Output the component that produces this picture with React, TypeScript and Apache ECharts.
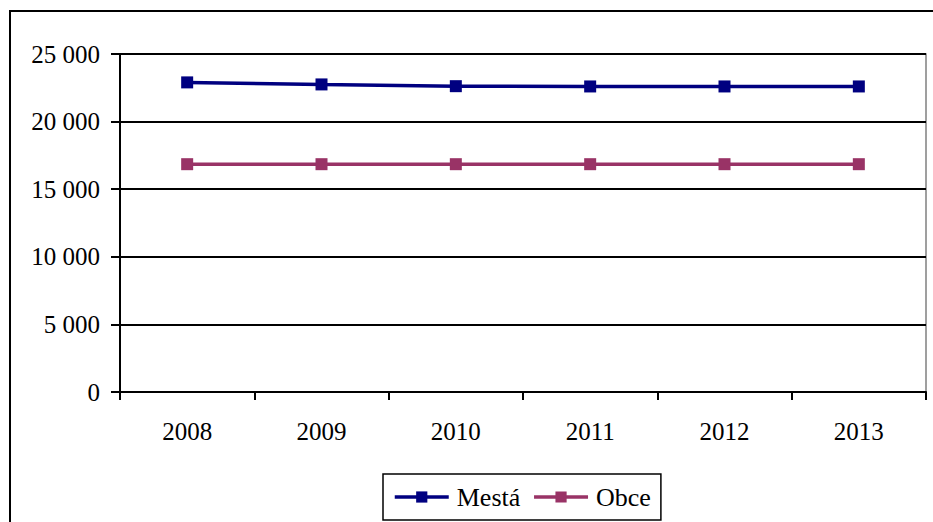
import React, { useEffect, useRef } from "react";
import * as echarts from "echarts";

const categories = ["2008", "2009", "2010", "2011", "2012", "2013"];
const mestaValues = [22900, 22750, 22620, 22600, 22600, 22600];
const obceValues = [16850, 16850, 16850, 16850, 16850, 16850];
const seriesNames = ["Mestá", "Obce"];

const FONT = "'Liberation Serif', 'Times New Roman', serif";

export default function App() {
  const ref = useRef<HTMLDivElement>(null);
  useEffect(() => {
    document.body.style.margin = "0";
    const chart = echarts.init(ref.current!, undefined, { renderer: "svg" });
    chart.setOption({
      animation: false,
      backgroundColor: "#ffffff",
      textStyle: { fontFamily: FONT },
      graphic: [
        {
          type: "rect",
          shape: { x: 10, y: 11, width: 960, height: 560 },
          style: { fill: "none", stroke: "#000", lineWidth: 2 },
          z: -1,
        },
      ],
      grid: {
        left: 120,
        top: 54,
        right: 7,
        bottom: 130,
        show: true,
        borderColor: "#808080",
        borderWidth: 1.5,
        containLabel: false,
      },
      legend: {
        bottom: 2,
        left: 383,
        orient: "horizontal",
        data: seriesNames,
        itemWidth: 54,
        itemHeight: 14,
        itemGap: 12,
        padding: [10, 10, 10, 10],
        borderColor: "#000",
        borderWidth: 1.5,
        lineStyle: { width: 3.5 },
        textStyle: { fontFamily: FONT, fontSize: 26, color: "#000", padding: [0, 0, 0, 3] },
      },
      xAxis: {
        type: "category",
        data: categories,
        boundaryGap: true,
        axisLine: { lineStyle: { color: "#000", width: 2 } },
        axisTick: { show: true, length: 8, lineStyle: { color: "#000", width: 2 } },
        axisLabel: { color: "#000", fontFamily: FONT, fontSize: 25, margin: 27 },
        splitLine: { show: false },
      },
      yAxis: {
        type: "value",
        min: 0,
        max: 25000,
        interval: 5000,
        axisLine: { show: true, lineStyle: { color: "#000", width: 2 } },
        axisTick: { show: true, length: 9, lineStyle: { color: "#000", width: 2 } },
        axisLabel: {
          color: "#000",
          fontFamily: FONT,
          fontSize: 25,
          margin: 20,
          formatter: (v: number) => String(v).replace(/\B(?=(\d{3})+(?!\d))/g, " "),
        },
        splitLine: { show: true, lineStyle: { color: "#000", width: 2 } },
      },
      series: [
        {
          name: seriesNames[0],
          type: "line",
          data: mestaValues,
          symbol: "rect",
          symbolSize: 12,
          itemStyle: { color: "#000080" },
          lineStyle: { color: "#000080", width: 3.5 },
        },
        {
          name: seriesNames[1],
          type: "line",
          data: obceValues,
          symbol: "rect",
          symbolSize: 12,
          itemStyle: { color: "#993366" },
          lineStyle: { color: "#993366", width: 3.5 },
        },
      ],
    });
    return () => chart.dispose();
  }, []);
  return <div ref={ref} style={{ width: 933, height: 522 }} />;
}
